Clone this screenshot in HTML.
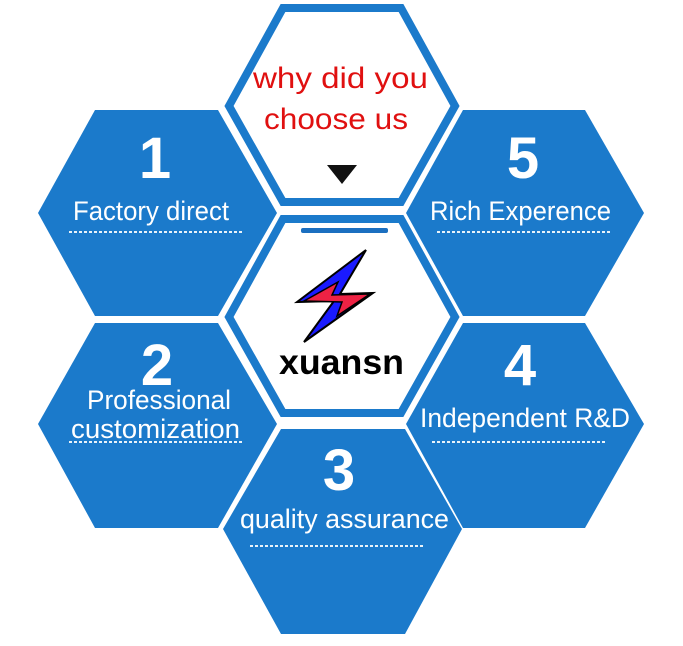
<!DOCTYPE html>
<html><head><meta charset="utf-8"><style>
html,body{margin:0;padding:0;background:#fff;width:683px;height:646px;overflow:hidden}
svg{display:block}
text{font-family:"Liberation Sans",sans-serif}
</style></head><body>
<svg width="683" height="646" viewBox="0 0 683 646" xmlns="http://www.w3.org/2000/svg">
<g fill="#1b7acb">
<polygon points="95,110 218,110 277,213 218,316 95,316 38,213"/>
<polygon points="463,110 585,110 644,213 585,316 463,316 406,213"/>
<polygon points="95,323 218,323 277,424 218,528 95,528 38,424"/>
<polygon points="463,323 585,323 644,424 585,528 463,528 406,424"/>
<polygon points="281,429 405,429 462,529 405,634 281,634 223,529"/>
</g>
<polygon points="283,8 401,8 455,106 401,202 283,202 229,106" fill="#fff" stroke="#1b7acb" stroke-width="8"/>
<polygon points="283,219 401,219 455,317 401,413 283,413 229,317" fill="#fff" stroke="#1b7acb" stroke-width="8"/>
<rect x="301" y="228" width="87" height="5" rx="2" fill="#1b6fc0"/>
<polygon points="366,250 297,302 334,301 304,342 373,293 340,294" fill="#1a1aff" stroke="#000" stroke-width="2" stroke-linejoin="miter"/>
<polygon points="304,301 338,282 332,295 370,294 337,316 342,302" fill="#ee2244" stroke="#000" stroke-width="1.5"/>
<text x="279" y="374" font-size="35" font-weight="bold" fill="#000" textLength="125" lengthAdjust="spacingAndGlyphs">xuansn</text>
<text x="253" y="88" font-size="30" fill="#e01010" textLength="175" lengthAdjust="spacingAndGlyphs">why did you</text>
<text x="264" y="129" font-size="30" fill="#e01010" textLength="144" lengthAdjust="spacingAndGlyphs">choose us</text>
<polygon points="327,165 357,165 342,184" fill="#111"/>
<g fill="#fff" font-weight="bold" text-anchor="middle" font-size="58">
<text x="155" y="178">1</text>
<text x="523" y="178">5</text>
<text x="157" y="385">2</text>
<text x="520" y="385">4</text>
<text x="339" y="490">3</text>
</g>
<g fill="#fff" font-size="27">
<text x="73" y="220" textLength="156" lengthAdjust="spacingAndGlyphs">Factory direct</text>
<text x="430" y="220" textLength="181" lengthAdjust="spacingAndGlyphs">Rich Experence</text>
<text x="87" y="409" textLength="144" lengthAdjust="spacingAndGlyphs">Professional</text>
<text x="71" y="438" textLength="169" lengthAdjust="spacingAndGlyphs">customization</text>
<text x="420" y="427" textLength="210" lengthAdjust="spacingAndGlyphs">Independent R&amp;D</text>
<text x="240" y="528" textLength="209" lengthAdjust="spacingAndGlyphs">quality assurance</text>
</g>
<g stroke="#fff" stroke-width="2" stroke-dasharray="3,2" opacity="0.9">
<line x1="69" y1="232" x2="242" y2="232"/>
<line x1="437" y1="232" x2="610" y2="232"/>
<line x1="69" y1="442" x2="242" y2="442"/>
<line x1="432" y1="442" x2="605" y2="442"/>
<line x1="250" y1="546" x2="425" y2="546"/>
</g>
</svg>
</body></html>
